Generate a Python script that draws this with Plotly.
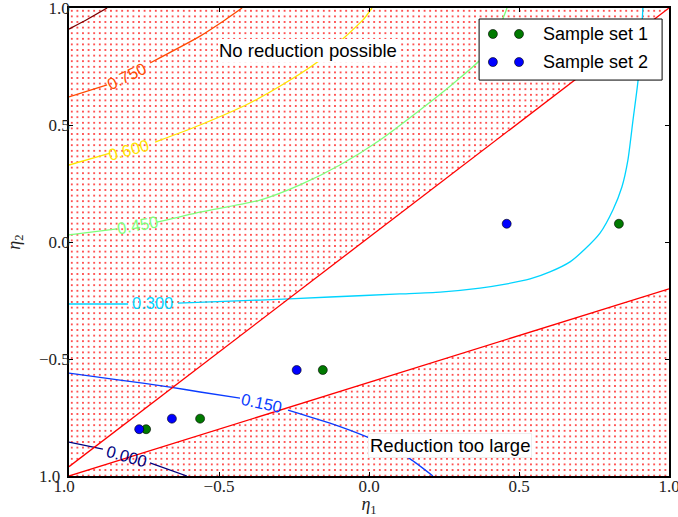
import plotly.graph_objects as go

# ---------------- data ----------------
set1_eta1 = [-0.743, -0.563, -0.154, 0.833]
set1_eta2 = [-0.800, -0.755, -0.547, 0.078]
set2_eta1 = [-0.766, -0.657, -0.241, 0.459]
set2_eta2 = [-0.800, -0.755, -0.547, 0.078]

# boundary lines of the admissible region
upper_eta1 = [-1.0, 1.0]
upper_eta2 = [-0.96, 1.0]
lower_eta1 = [-1.0, 1.0]
lower_eta2 = [-1.0, -0.2]

# contour lines (None = gap left for the inline label)
c000_x = [-1.0, -0.887, None, -0.73, -0.607]
c000_y = [-0.855, -0.885, None, -0.944, -1.0]
c150_x = [-1.0, -0.83, -0.663, -0.563, -0.43, None, -0.27, -0.13, -0.007, 0.07, 0.137, 0.213]
c150_y = [-0.560, -0.590, -0.620, -0.641, -0.667, None, -0.718, -0.774, -0.833, -0.880, -0.927, -1.0]
c300_x = [-1.0, -0.803, None, -0.637, -0.363, -0.13, 0.103, 0.237, 0.37, 0.46, 0.537, 0.603,
          0.67, 0.72, 0.77, 0.813, 0.843, 0.863, 0.88, 0.897, 0.907, 0.913]
c300_y = [-0.265, -0.265, None, -0.261, -0.248, -0.235, -0.222, -0.214, -0.197, -0.179, -0.158, -0.128,
          -0.085, -0.030, 0.038, 0.137, 0.235, 0.350, 0.521, 0.692, 0.863, 1.0]
c450_x = [-1.0, -0.84, None, -0.707, -0.563, -0.363, -0.23, -0.097, 0.037, 0.17, 0.287, 0.37, 0.42, 0.46]
c450_y = [0.030, 0.056, None, 0.085, 0.128, 0.179, 0.244, 0.329, 0.436, 0.564, 0.684, 0.778, 0.872, 1.0]
c600_x = [-1.0, -0.863, None, -0.713, -0.563, -0.397, -0.263, -0.163, -0.08, -0.02, 0.01]
c600_y = [0.329, 0.380, None, 0.427, 0.500, 0.594, 0.692, 0.778, 0.876, 0.949, 1.0]
c750_x = [-1.0, -0.873, None, -0.73, -0.563, -0.48, -0.423]
c750_y = [0.620, 0.671, None, 0.765, 0.880, 0.949, 1.0]
c900_x = [-1.0, -0.937, -0.873]
c900_y = [0.910, 0.953, 1.0]

contour_labels = ["0.000", "0.150", "0.300", "0.450", "0.600", "0.750"]
label_eta1 = [-0.81, -0.357, -0.723, -0.773, -0.803, -0.807]
label_eta2 = [-0.915, -0.688, -0.261, 0.073, 0.393, 0.709]

tick_vals = [-1.0, -0.5, 0.0, 0.5, 1.0]
hidden_minus = "<span style='color:rgba(0,0,0,0)'>\u2212</span>"
tick_text = ["1.0" + hidden_minus, "\u22120.5", "0.0", "0.5", "1.0"]

# ---------------- styling ----------------
jet = {"0.000": "#00007f", "0.150": "#0b3cff", "0.300": "#00d4ff",
       "0.450": "#7dff7a", "0.600": "#ffe600", "0.750": "#ff4a00", "0.900": "#7f0000"}
label_angle = [16, 12, 0, -10, -15, -26]

fig = go.Figure()

# hatched forbidden regions
pat = dict(shape=".", fgcolor="#ff0000", bgcolor="rgba(0,0,0,0)", size=5.6,
           solidity=0.08, fillmode="overlay", fgopacity=0.95)
fig.add_trace(go.Scatter(x=upper_eta1 + [-1.0], y=upper_eta2 + [1.0], mode="none",
                         fill="toself", fillcolor="rgba(0,0,0,0)", fillpattern=pat,
                         showlegend=False, hoverinfo="skip"))
fig.add_trace(go.Scatter(x=lower_eta1 + [1.0], y=lower_eta2 + [-1.0], mode="none",
                         fill="toself", fillcolor="rgba(0,0,0,0)", fillpattern=pat,
                         showlegend=False, hoverinfo="skip"))

for lvl, xs, ys in [("0.000", c000_x, c000_y), ("0.150", c150_x, c150_y),
                    ("0.300", c300_x, c300_y), ("0.450", c450_x, c450_y),
                    ("0.600", c600_x, c600_y), ("0.750", c750_x, c750_y),
                    ("0.900", c900_x, c900_y)]:
    fig.add_trace(go.Scatter(x=xs, y=ys, mode="lines",
                             line=dict(color=jet[lvl], width=1.3, shape="spline", smoothing=0.6),
                             connectgaps=False, showlegend=False, hoverinfo="skip"))

for xs, ys in [(upper_eta1, upper_eta2), (lower_eta1, lower_eta2)]:
    fig.add_trace(go.Scatter(x=xs, y=ys, mode="lines", line=dict(color="#ff0000", width=1.3),
                             showlegend=False, hoverinfo="skip"))

fig.add_trace(go.Scatter(x=set1_eta1, y=set1_eta2, mode="markers", name="Sample set 1",
                         marker=dict(color="#007a00", size=9, line=dict(color="black", width=0.6)),
                         showlegend=False))
fig.add_trace(go.Scatter(x=set2_eta1, y=set2_eta2, mode="markers", name="Sample set 2",
                         marker=dict(color="#0000ff", size=9, line=dict(color="black", width=0.6)),
                         showlegend=False))

annotations = []
for txt, lx, ly, ang in zip(contour_labels, label_eta1, label_eta2, label_angle):
    annotations.append(dict(x=lx, y=ly, xref="x", yref="y", text=txt, showarrow=False,
                            textangle=ang, font=dict(family="Liberation Sans", size=16.5, color=jet[txt])))

annotations.append(dict(x=-0.203, y=0.82, xref="x", yref="y", text="No reduction possible",
                        showarrow=False, bgcolor="white", borderpad=1, borderwidth=0,
                        font=dict(family="Liberation Sans", size=18.5, color="black")))
annotations.append(dict(x=0.27, y=-0.868, xref="x", yref="y", text="Reduction too large",
                        showarrow=False, bgcolor="white", borderpad=1, bordercolor="#eeeeee", borderwidth=1,
                        font=dict(family="Liberation Sans", size=18.5, color="black")))

# custom legend (two markers per entry, like the reference)
shapes = [dict(type="rect", xref="x", yref="y", x0=0.367, x1=0.977, y0=0.692, y1=0.953,
               fillcolor="white", line=dict(color="black", width=1), layer="above")]
for ly, col in [(0.889, "#007a00"), (0.769, "#0000ff")]:
    for lx in [0.413, 0.5]:
        shapes.append(dict(type="circle", xref="x", yref="y", xsizemode="pixel", ysizemode="pixel",
                           xanchor=lx, yanchor=ly, x0=-4.5, x1=4.5, y0=-4.5, y1=4.5,
                           fillcolor=col, line=dict(color="black", width=0.6), layer="above"))
for ly, txt in [(0.889, "Sample set 1"), (0.769, "Sample set 2")]:
    annotations.append(dict(x=0.573, y=ly, xref="x", yref="y", text=txt, showarrow=False,
                            xanchor="left", font=dict(family="Liberation Sans", size=18, color="black")))

axis_common = dict(range=[-1, 1], tickmode="array", tickvals=tick_vals, ticktext=tick_text,
                   ticks="inside", ticklen=4, automargin=False, ticklabeloverflow="allow",
                   tickcolor="black", tickwidth=1, showline=True, linecolor="black", linewidth=1.5,
                   mirror="ticks", showgrid=False, zeroline=False,
                   tickfont=dict(family="Liberation Serif", size=17, color="#222222"))

fig.update_layout(
    width=678, height=517, margin=dict(l=69, r=9, t=8, b=41, autoexpand=False),
    paper_bgcolor="white", plot_bgcolor="white",
    xaxis=dict(**axis_common, ticklabelstandoff=-6,
               title=dict(text="<i>η</i><sub>1</sub>", standoff=4,
                          font=dict(family="Liberation Serif", size=18, color="#222222"))),
    yaxis=dict(**axis_common, ticklabelstandoff=-6,
               title=dict(text="<i>η</i><sub>2</sub>", standoff=14,
                          font=dict(family="Liberation Serif", size=18, color="#222222"))),
    annotations=annotations, shapes=shapes, showlegend=False,
)

fig.write_html("out.html")
